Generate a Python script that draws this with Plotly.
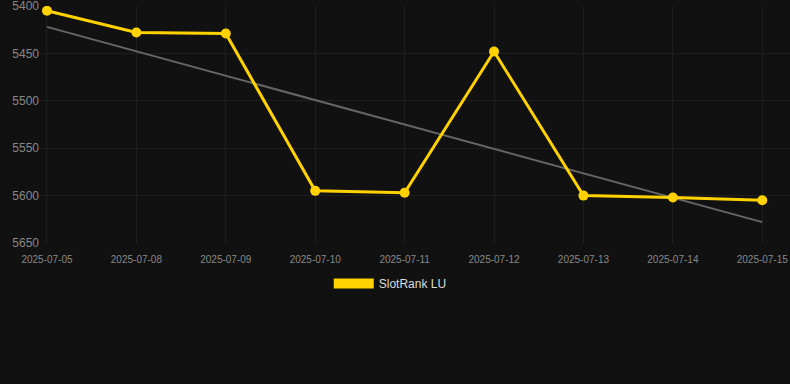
import plotly.graph_objects as go

dates = ["2025-07-05", "2025-07-08", "2025-07-09", "2025-07-10", "2025-07-11",
         "2025-07-12", "2025-07-13", "2025-07-14", "2025-07-15"]
rank = [5405, 5428, 5429, 5595, 5597, 5448, 5600, 5602, 5605]
trend_dates = ["2025-07-05", "2025-07-15"]
trend_vals = [5422, 5628]
y_ticks = [5400, 5450, 5500, 5550, 5600, 5650]

BG = "#111111"
GOLD = "#FFD200"
GRID = "#1e1e1e"

fig = go.Figure()
fig.add_trace(go.Scatter(
    x=trend_dates, y=trend_vals, mode="lines",
    line=dict(color="#666666", width=2), showlegend=False, hoverinfo="skip"))
fig.add_trace(go.Scatter(
    x=dates, y=rank, mode="lines+markers",
    line=dict(color=GOLD, width=3), marker=dict(color=GOLD, size=10),
    showlegend=False, name="SlotRank LU"))
fig.add_trace(go.Scatter(
    x=[None], y=[None], mode="lines",
    line=dict(color=GOLD, width=12), name="SlotRank LU"))

fig.update_layout(
    width=790, height=384,
    paper_bgcolor=BG, plot_bgcolor=BG,
    margin=dict(l=40, r=0, t=6, b=141),
    font=dict(family="Liberation Sans, Arial, sans-serif", color="#888888"),
    legend=dict(orientation="h", x=0.467, xanchor="center", y=-0.11, yanchor="top",
                font=dict(size=12, color="#dddddd"), itemwidth=40),
    xaxis=dict(type="category", categoryorder="array", categoryarray=dates,
               range=[-0.078, 8.31], showgrid=True, gridcolor=GRID,
               zeroline=False, showline=False, tickfont=dict(size=10, color="#888888"),
               ticks="", ticklabelstandoff=9),
    yaxis=dict(range=[5650.02, 5399.98], tickvals=y_ticks, showgrid=True,
               gridcolor=GRID, zeroline=False, showline=False,
               tickfont=dict(size=12, color="#888888"), ticks="",
               ticklabeloverflow="allow"),
)
fig.write_html("out.html", config={"displayModeBar": False},
               post_script="document.body.style.margin='0';document.body.style.background='#111111';")
